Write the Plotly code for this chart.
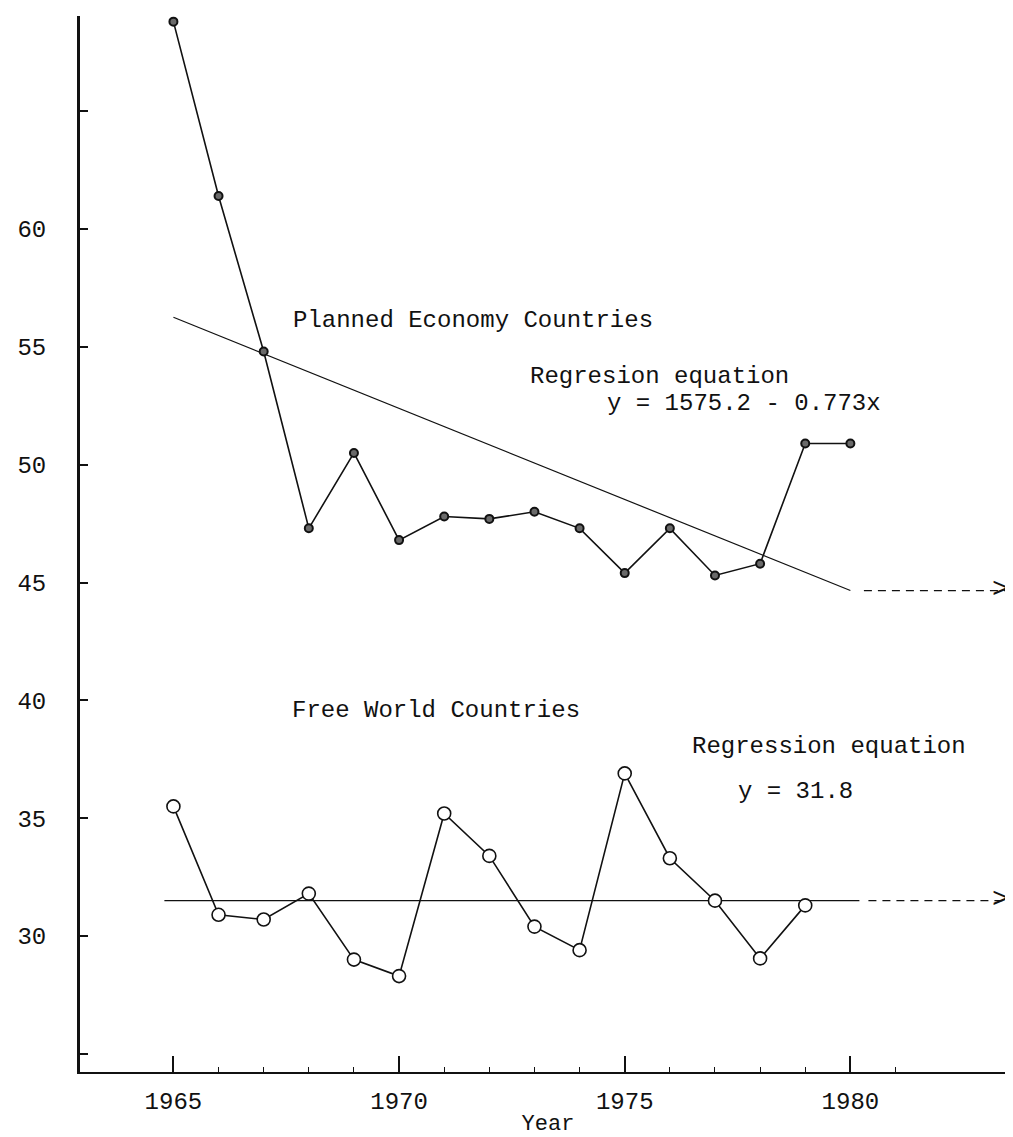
import plotly.graph_objects as go

years_planned = list(range(1965, 1981))
planned = [68.8, 61.4, 54.8, 47.3, 50.5, 46.8, 47.8, 47.7, 48.0, 47.3, 45.4, 47.3, 45.3, 45.8, 50.9, 50.9]

years_free = list(range(1965, 1980))
free = [35.5, 30.9, 30.7, 31.8, 29.0, 28.3, 35.2, 33.4, 30.4, 29.4, 36.9, 33.3, 31.5, 29.05, 31.3]

# regression (planned): y = 1575.2 - 0.773x
reg_a, reg_b = 1575.2, -0.773
reg_years = [1965, 1980]
proj_end = 1983.5
# regression (free): level as drawn
free_level = 31.5
free_reg_years = [1964.8, 1980.2]

y_tickvals = [25, 30, 35, 40, 45, 50, 55, 60, 65]
y_ticktext = ["", "30", "35", "40", "45", "50", "55", "60", ""]
x_tickvals = [1965, 1970, 1975, 1980]
x_minor = list(range(1965, 1982))

FONT = "Liberation Mono, Courier New, monospace"
INK = "#111111"

fig = go.Figure()

reg_vals = [reg_a + reg_b * x for x in reg_years]
fig.add_trace(go.Scatter(x=reg_years, y=reg_vals, mode="lines",
                         line=dict(color=INK, width=1.2), showlegend=False, hoverinfo="skip"))
fig.add_trace(go.Scatter(x=[reg_years[1] + 0.3, proj_end], y=[reg_vals[1], reg_vals[1]], mode="lines",
                         line=dict(color=INK, width=1.2, dash="8px,6px"), showlegend=False, hoverinfo="skip"))
fig.add_trace(go.Scatter(x=free_reg_years, y=[free_level, free_level], mode="lines",
                         line=dict(color=INK, width=1.2), showlegend=False, hoverinfo="skip"))
fig.add_trace(go.Scatter(x=[free_reg_years[1] + 0.2, proj_end], y=[free_level, free_level], mode="lines",
                         line=dict(color=INK, width=1.2, dash="8px,6px"), showlegend=False, hoverinfo="skip"))

fig.add_trace(go.Scatter(x=years_planned, y=planned, mode="lines+markers",
                         line=dict(color=INK, width=1.6),
                         marker=dict(symbol="circle", size=8, color="#6a6a6a", line=dict(color=INK, width=2)),
                         showlegend=False))
fig.add_trace(go.Scatter(x=years_free, y=free, mode="lines+markers",
                         line=dict(color=INK, width=1.6),
                         marker=dict(symbol="circle", size=13, color="white", line=dict(color=INK, width=1.6)),
                         showlegend=False))

# arrow heads
for yv in [reg_vals[1], free_level]:
    fig.add_annotation(x=proj_end, y=yv, text=">", showarrow=False, xanchor="right", yanchor="middle",
                       xshift=3, yshift=1, font=dict(family=FONT, size=28, color=INK))

def label(x, y, t, anchor="left"):
    fig.add_annotation(x=x, y=y, text=t, showarrow=False, xanchor=anchor, yanchor="middle",
                       font=dict(family=FONT, size=24, color=INK))

label(1967.6, 56.1, "Planned Economy Countries")
label(1972.86, 53.76, "Regresion equation")
label(1974.56, 52.61, "y = 1575.2 - 0.773x")
label(1967.58, 39.59, "Free World Countries")
label(1976.45, 38.06, "Regression equation")
label(1977.47, 36.15, "y = 31.8")

fig.update_xaxes(range=[1962.93, 1983.67], tickvals=x_tickvals, ticktext=[str(v) for v in x_tickvals],
                 ticks="inside", ticklen=16, tickwidth=1.5, tickcolor=INK,
                 minor=dict(tickvals=x_minor, ticks="inside", ticklen=5, tickwidth=1.2, tickcolor=INK),
                 showline=True, linecolor=INK, linewidth=2, showgrid=False, zeroline=False,
                 tickfont=dict(family=FONT, size=24, color=INK), ticklabelstandoff=6, automargin=False,
                 title=dict(text="Year", font=dict(family=FONT, size=22, color=INK), standoff=0))
fig.update_yaxes(range=[24.23, 69.04], tickvals=y_tickvals, ticktext=y_ticktext,
                 ticks="inside", ticklen=8, tickwidth=1.5, tickcolor=INK,
                 showline=True, linecolor=INK, linewidth=3, showgrid=False, zeroline=False,
                 tickfont=dict(family=FONT, size=24, color=INK), ticklabelstandoff=26, automargin=False)

fig.update_layout(width=1013, height=1137, margin=dict(l=72, r=5, t=8, b=73),
                  plot_bgcolor="white", paper_bgcolor="white", showlegend=False)

fig.write_html("out.html")
